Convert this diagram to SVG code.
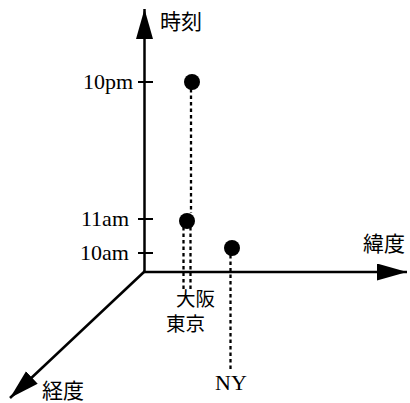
<svg xmlns="http://www.w3.org/2000/svg" width="410" height="403" viewBox="0 0 410 403">
<defs>
<marker id="ah" markerUnits="userSpaceOnUse" markerWidth="32" markerHeight="18" refX="30" refY="8.5" orient="auto">
<path d="M0,0 L30,8.5 L0,17 Z" fill="#000"/>
</marker>
<style>
.axis{stroke:#000;stroke-width:2.5;fill:none}
.tick{stroke:#000;stroke-width:2;fill:none}
.dash{stroke:#000;stroke-width:2.3;stroke-dasharray:3.5,3;fill:none}
.dot{fill:#000}
.num{font-family:"Liberation Serif",serif;font-size:22px;fill:#000}
.jp{font-family:"Noto Sans CJK JP","Noto Sans",sans-serif;font-size:21px;fill:#000}
.jps{font-family:"Noto Sans CJK JP","Noto Sans",sans-serif;font-size:19.5px;fill:#000}
</style>
</defs>
<rect width="410" height="403" fill="#fff"/>
<g id="connectors">
<line class="axis" x1="144.5" y1="272" x2="144.5" y2="9" marker-end="url(#ah)"/>
<line class="axis" x1="143" y1="272" x2="407" y2="272" marker-end="url(#ah)"/>
<line class="axis" x1="145" y1="271" x2="10" y2="398" marker-end="url(#ah)"/>
<line class="tick" x1="138" y1="82" x2="153" y2="82"/>
<line class="tick" x1="138" y1="219" x2="153" y2="219"/>
<line class="tick" x1="138" y1="253" x2="153" y2="253"/>
<line class="dash" x1="191" y1="89" x2="191" y2="213"/>
<line class="dash" x1="183.5" y1="227" x2="183.5" y2="292"/>
<line class="dash" x1="190.5" y1="227" x2="190.5" y2="289"/>
<line class="dash" x1="230.5" y1="255" x2="230.5" y2="371"/>
</g>
<g id="axis-time"><text class="jp" x="160" y="29">時刻</text></g>
<g id="axis-lat"><text class="jp" x="363" y="251">緯度</text></g>
<g id="axis-lon"><text class="jp" x="42" y="398">経度</text></g>
<g id="tick-10pm"><text class="num" x="133" y="89" text-anchor="end">10pm</text></g>
<g id="tick-11am"><text class="num" x="129" y="226" text-anchor="end">11am</text></g>
<g id="tick-10am"><text class="num" x="129" y="260" text-anchor="end">10am</text></g>
<g id="point-10pm"><circle class="dot" cx="192" cy="82" r="8"/></g>
<g id="point-11am"><circle class="dot" cx="187" cy="221" r="8"/></g>
<g id="point-10am"><circle class="dot" cx="232" cy="248" r="8"/></g>
<g id="label-osaka"><text class="jps" x="176" y="306">大阪</text></g>
<g id="label-tokyo"><text class="jps" x="166" y="331">東京</text></g>
<g id="label-ny"><text class="num" x="231" y="390" text-anchor="middle">NY</text></g>
</svg>
